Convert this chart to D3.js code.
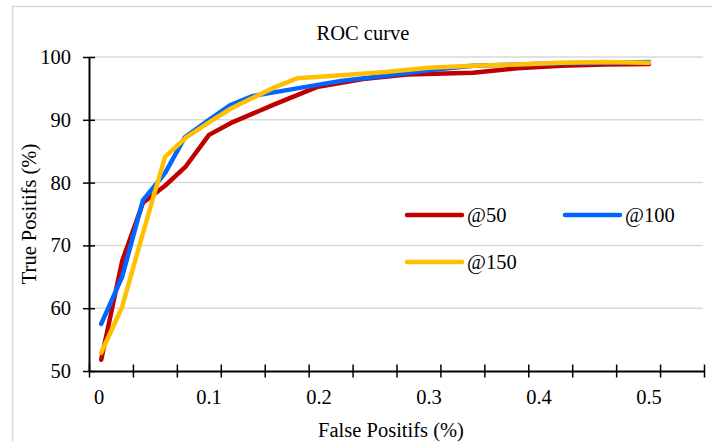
<!DOCTYPE html>
<html>
<head>
<meta charset="utf-8">
<script src="https://cdn.jsdelivr.net/npm/d3@7"></script>
<style>
  body { margin: 0; background: #fff; }
  text { font-family: "Liberation Serif", "Times New Roman", serif; fill: #000; font-size: 20.5px; }
</style>
</head>
<body>
<div id="chart"></div>
<script>
// values
var fp50  = [0.002, 0.021, 0.04, 0.06, 0.079, 0.1, 0.12, 0.16, 0.198, 0.24, 0.28, 0.34, 0.38, 0.42, 0.46, 0.5];
var tp50  = [51.8, 67.5, 76.8, 79.5, 82.6, 87.6, 89.5, 92.5, 95.2, 96.5, 97.2, 97.5, 98.2, 98.6, 98.8, 98.9];

var fp100 = [0.002, 0.021, 0.04, 0.06, 0.078, 0.1, 0.12, 0.14, 0.18, 0.22, 0.26, 0.3, 0.34, 0.38, 0.42, 0.46, 0.5];
var tp100 = [57.5, 65, 77.2, 81.5, 87.2, 90, 92.4, 93.8, 95, 96.2, 97, 97.9, 98.6, 98.8, 99, 99.1, 99.2];

var fp150 = [0.002, 0.021, 0.04, 0.06, 0.08, 0.1, 0.12, 0.16, 0.18, 0.22, 0.26, 0.3, 0.34, 0.38, 0.42, 0.46, 0.5];
var tp150 = [52.9, 60.2, 72, 84.1, 87.3, 89.6, 91.8, 95.2, 96.6, 97.1, 97.6, 98.3, 98.6, 98.8, 99.1, 99.2, 99.1];

var seriesNames = ["@50", "@100", "@150"];
var colors = ["#c00000", "#0066ff", "#ffc000"];
var xLabels = [0, 0.1, 0.2, 0.3, 0.4, 0.5];
var yLabels = [50, 60, 70, 80, 90, 100];

var W = 712, H = 442;
var margin = {left: 89, right: 704, top: 57, bottom: 371};

var svg = d3.select("#chart").append("svg")
    .attr("width", W)
    .attr("height", H);

// chart frame
svg.append("rect")
    .attr("x", 12.5).attr("y", 6.5)
    .attr("width", 720).attr("height", 460)
    .attr("fill", "none")
    .attr("stroke", "#d9d9d9")
    .attr("stroke-width", 1.5);

var xMin = -0.0091, xMax = 0.55;
var x = d3.scaleLinear().domain([xMin, xMax]).range([margin.left, margin.right]);
var y = d3.scaleLinear().domain([50, 100]).range([margin.bottom, margin.top]);

// gridlines
svg.append("g")
    .selectAll("line")
    .data(yLabels.slice(1))
    .enter()
    .append("line")
      .attr("x1", margin.left).attr("x2", margin.right - 1)
      .attr("y1", function(d) { return y(d); })
      .attr("y2", function(d) { return y(d); })
      .attr("stroke", "#d9d9d9")
      .attr("stroke-width", 1.5);

// series
var series = [
  {name: seriesNames[0], xs: fp50, ys: tp50, color: colors[0]},
  {name: seriesNames[1], xs: fp100, ys: tp100, color: colors[1]},
  {name: seriesNames[2], xs: fp150, ys: tp150, color: colors[2]}
];

var line = d3.line()
    .x(function(d) { return x(d[0]); })
    .y(function(d) { return y(d[1]); });

series.forEach(function(s) {
  var pts = s.xs.map(function(v, i) { return [v, s.ys[i]]; });
  svg.append("path")
      .datum(pts)
      .attr("d", line)
      .attr("fill", "none")
      .attr("stroke", s.color)
      .attr("stroke-width", 4.5)
      .attr("stroke-linejoin", "round")
      .attr("stroke-linecap", "round");
});

// x axis: crossing tick marks every 1/14 of the range, labels at 0.1 steps
var minorTicks = d3.range(15).map(function(i) { return xMin + i * (xMax - xMin) / 14; });
var xTickAxis = svg.append("g")
    .attr("transform", "translate(0," + margin.bottom + ")")
    .call(d3.axisBottom(x).tickValues(minorTicks).tickFormat("").tickSize(13).tickSizeOuter(0));
xTickAxis.selectAll(".tick line").attr("y1", -6.5).attr("y2", 6.5).attr("stroke", "#000").attr("stroke-width", 1.5);
xTickAxis.select(".domain").attr("stroke", "#000").attr("stroke-width", 2);

svg.append("g")
    .selectAll("text")
    .data(xLabels)
    .enter()
    .append("text")
      .attr("x", function(d) { return x(d); })
      .attr("y", 404)
      .attr("text-anchor", "middle")
      .text(function(d) { return d; });

// y axis
var yAxis = svg.append("g")
    .attr("transform", "translate(" + margin.left + ",0)")
    .call(d3.axisLeft(y).tickValues(yLabels).tickFormat("").tickSize(12).tickSizeOuter(0));
yAxis.selectAll(".tick line").attr("x1", -6).attr("x2", 6).attr("stroke", "#000").attr("stroke-width", 1.5);
yAxis.select(".domain").attr("stroke", "#000").attr("stroke-width", 2);

svg.append("g")
    .selectAll("text")
    .data(yLabels)
    .enter()
    .append("text")
      .attr("x", 71)
      .attr("y", function(d) { return y(d) + 7; })
      .attr("text-anchor", "end")
      .text(function(d) { return d; });

// titles
svg.append("text")
    .attr("x", 363).attr("y", 40)
    .attr("text-anchor", "middle")
    .text("ROC curve");

svg.append("text")
    .attr("x", 391).attr("y", 437)
    .attr("text-anchor", "middle")
    .text("False Positifs (%)");

svg.append("text")
    .attr("transform", "translate(36," + ((margin.top + margin.bottom) / 2) + ") rotate(-90)")
    .attr("text-anchor", "middle")
    .text("True Positifs (%)");

// legend
var legendPos = [[407, 215], [565, 215], [407, 262]];
var legend = svg.append("g")
    .selectAll("g")
    .data(series)
    .enter()
    .append("g")
      .attr("transform", function(d, i) { return "translate(" + legendPos[i][0] + "," + legendPos[i][1] + ")"; });
legend.append("line")
    .attr("x1", 0).attr("x2", 55)
    .attr("stroke", function(d) { return d.color; })
    .attr("stroke-width", 4.5)
    .attr("stroke-linecap", "round");
legend.append("text")
    .attr("x", 60).attr("y", 7)
    .text(function(d) { return d.name; });
</script>
</body>
</html>
